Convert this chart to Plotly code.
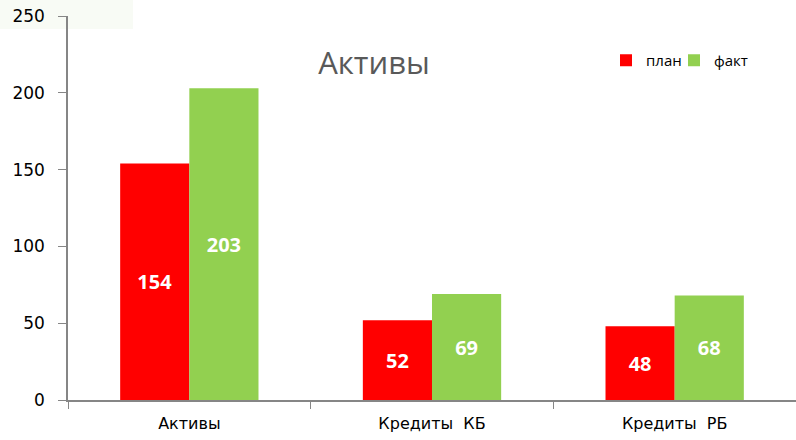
import plotly.graph_objects as go

categories = ["Активы", "Кредиты  КБ", "Кредиты  РБ"]
plan = [154, 52, 48]
fact = [203, 69, 68]
series_names = ["план", "факт"]
y_ticks = [0, 50, 100, 150, 200, 250]

W, H = 796, 440
L, T, B = 68, 16, 40
PW, PH = W - L, H - T - B

fig = go.Figure()
for name, values, color, legend in [
    (series_names[0], plan, "#ff0000", "legend"),
    (series_names[1], fact, "#92d050", "legend2"),
]:
    fig.add_trace(
        go.Bar(
            x=categories,
            y=values,
            name=name,
            legend=legend,
            marker={"color": color, "line": {"width": 0}},
            text=values,
            textposition="inside",
            insidetextanchor="middle",
            textfont={"family": "Open Sans", "size": 20, "color": "white", "weight": "bold"},
            textangle=0,
        )
    )

# faint tinted block behind the top-left corner
fig.add_shape(
    type="rect", xref="paper", yref="paper",
    x0=-L / PW, x1=(133 - L) / PW, y0=1 - 13 / PH, y1=1 + T / PH,
    fillcolor="#f8fbf5", line={"width": 0}, layer="below",
)

legend_style = {
    "orientation": "h",
    "xanchor": "left",
    "y": 1 - 28 / PH,
    "yanchor": "top",
    "font": {"family": "Open Sans", "size": 15, "color": "black"},
    "itemwidth": 30,
    "bgcolor": "rgba(0,0,0,0)",
}

fig.update_layout(
    width=W,
    height=H,
    barmode="group",
    bargap=0.43,
    bargroupgap=0,
    plot_bgcolor="rgba(0,0,0,0)",
    paper_bgcolor="white",
    margin={"l": L, "r": 0, "t": T, "b": B, "autoexpand": False},
    font={"family": "DejaVu Sans", "color": "black"},
    title={
        "text": "Активы",
        "font": {"family": "Open Sans", "size": 31, "color": "#595959"},
        "x": 374 / W,
        "xanchor": "center",
        "y": 1 - 63 / H,
        "yanchor": "middle",
    },
    legend={**legend_style, "x": (606 - L) / PW},
    legend2={**legend_style, "x": (674 - L) / PW},
    showlegend=True,
)
fig.update_xaxes(
    showline=True,
    linecolor="#868686",
    linewidth=1.5,
    ticks="outside",
    tickson="boundaries",
    ticklen=7,
    tickcolor="#868686",
    tickfont={"family": "DejaVu Sans", "size": 16, "color": "black"},
    ticklabelstandoff=8,
    showgrid=False,
    automargin=False,
)
fig.update_yaxes(
    range=[0, 250],
    tickvals=y_ticks,
    showline=True,
    linecolor="#868686",
    linewidth=1.5,
    ticks="outside",
    ticklen=8,
    tickcolor="#868686",
    tickfont={"family": "DejaVu Sans", "size": 17, "color": "black"},
    ticklabelstandoff=10,
    showgrid=False,
    zeroline=False,
    automargin=False,
)

# drop the browser's default 8px body margin so the figure sits at the window corner
fig.write_html(
    "out.html",
    config={"displayModeBar": False},
    post_script="document.body.style.margin = '0';",
)
